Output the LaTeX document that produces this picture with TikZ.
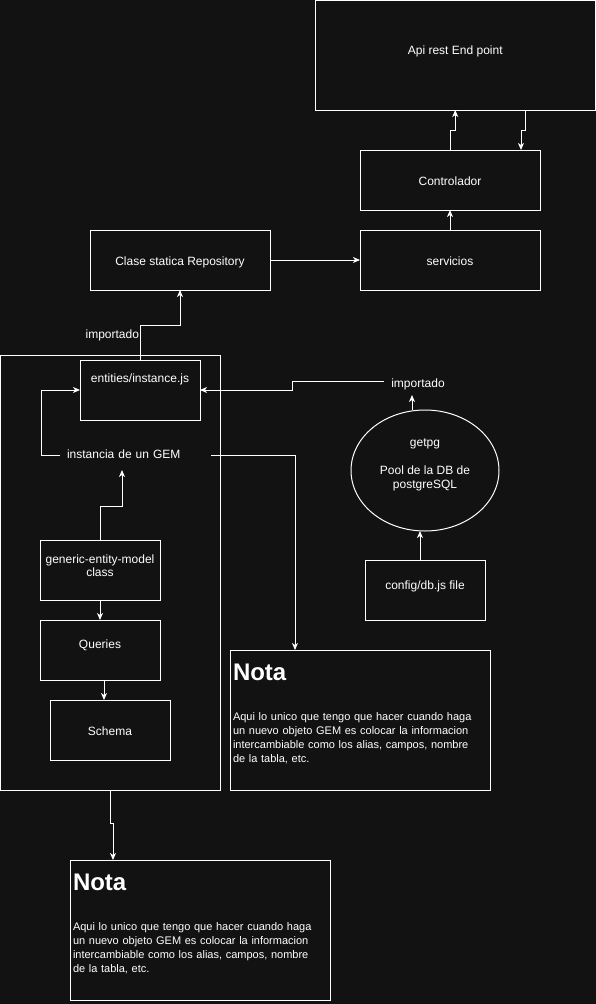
\documentclass[tikz,border=0pt]{standalone}
\usepackage{fontspec}
\setmainfont{Liberation Sans}
\usetikzlibrary{positioning,arrows.meta,shapes.geometric}
\definecolor{bgdark}{RGB}{18,18,18}

\begin{document}
\begin{tikzpicture}[x=1pt, y=-1pt, line width=1pt, color=white,
	font=\fontsize{12}{13}\selectfont,
	box/.style = {draw, rectangle, inner sep=0pt, outer sep=0pt, minimum width=120pt, minimum height=60pt, text height=11.5pt, text depth=1pt},
	wide/.style = {box, minimum width=180pt},
	txt/.style = {inner sep=0pt, outer sep=0pt, text height=8.5pt, text depth=1pt},
	note/.style = {draw, rectangle, anchor=north west, inner xsep=3pt, inner ysep=0pt, outer sep=0pt, text width=254pt, align=left, text height=30.6pt, text depth=109.4pt, font=\fontsize{11}{14}\selectfont},
	arr/.style = {-{Stealth[length=7pt, width=6pt, inset=2pt]}}]
	\useasboundingbox (0,0) rectangle (596,1004);
	\fill[bgdark] (0,0) rectangle (596,1004);

	\node[box, minimum width=280.5pt, minimum height=109.5pt, text depth=13pt] (api) at (455.25,55.25) {Api rest End point};
	\node[wide] (ctrl) at (450,180) {Controlador};
	\node[wide] (serv) [below=20pt of ctrl] {servicios};
	\node[wide] (repo) at (180,260) {Clase statica Repository};

	% contenedor del GEM
	\node[draw, rectangle, inner sep=0pt, outer sep=0pt, minimum width=219.5pt, minimum height=435pt] (cont) at (110.25,572.5) {};
	\node[box, text depth=27pt] (ent) at (140,390) {entities/instance.js};
	\node[txt, text width=137pt, align=left, inner xsep=7pt, minimum height=30pt] (gemt) at (135.5,455) {instancia de un GEM};
	\node[box, text depth=25pt] (gemc) at (100,570) {\begin{tabular}[t]{@{}c@{}}generic-entity-model\\class\end{tabular}};
	\node[box, text depth=15pt] (qry) [below=20pt of gemc] {Queries};
	\node[box] (sch) [below=20pt of qry, xshift=10pt] {Schema};

	% base de datos
	\node[draw, ellipse, inner sep=0pt, outer sep=0pt, minimum width=148pt, minimum height=121pt, text height=10pt, text depth=59pt, font=\fontsize{12}{14}\selectfont] (pg) at (425,470.5) {\begin{tabular}[t]{@{}c@{}}getpg\\ \\Pool de la DB de\\postgreSQL\end{tabular}};
	\node[box, text depth=13pt] (cfg) [below=29pt of pg] {config/db.js file};
	\node[txt, inner xsep=7pt, minimum height=28pt, text height=14pt] (imp2) at (418,381) {importado};

	% notas
	\node[note] (nota1) at (230,650) {{\fontsize{24}{28}\selectfont\bfseries Nota\par}\vspace{25.4pt}
		Aqui lo unico que tengo que hacer cuando haga\\
		un nuevo objeto GEM es colocar la informacion\\
		intercambiable como los alias, campos, nombre\\
		de la tabla, etc.};
	\node[note] (nota2) at (70,860) {{\fontsize{24}{28}\selectfont\bfseries Nota\par}\vspace{25.4pt}
		Aqui lo unico que tengo que hacer cuando haga\\
		un nuevo objeto GEM es colocar la informacion\\
		intercambiable como los alias, campos, nombre\\
		de la tabla, etc.};

	\draw[arr] (ctrl.north) -- ++(0,-20) -| (api.south);
	\draw[arr] ([xshift=70pt]api.south) -- ++(0,20) -| ([xshift=71pt]ctrl.north);
	\draw[arr] (serv) -- (ctrl);
	\draw[arr] (repo) -- (serv);
	\draw[arr] (ent.north) -- node[pos=0.71, anchor=east, inner xsep=0.5pt, inner ysep=1pt, fill=bgdark] (imp1) {importado} ++(0,-35) -| (repo.south);
	\draw[arr] (gemc.north) -- ++(0,-34) -| ([xshift=-13.5pt]gemt.south);
	\draw[arr] (gemt.west) -- ++(-19,0) |- (ent.west);
	\draw[arr] (gemt.east) -| ([xshift=-65pt]nota1.north);
	\draw[arr] (gemc) -- (qry);
	\draw[arr] ([xshift=4pt]qry.south) -- ([xshift=4pt]qry.south |- sch.north);
	\draw[arr] (cont.south) -- ++(0,33) -| ([xshift=-87pt]nota2.north);
	\draw[arr] ([xshift=-5pt]cfg.north) -- ([xshift=-5pt]cfg.north |- pg.south);
	\draw[arr] ([xshift=-13pt]pg.north) -- ([xshift=-13pt]pg.north |- imp2.south);
	\draw[arr] (imp2.west) -- ++(-92,0) |- (ent.east);
\end{tikzpicture}
\end{document}
